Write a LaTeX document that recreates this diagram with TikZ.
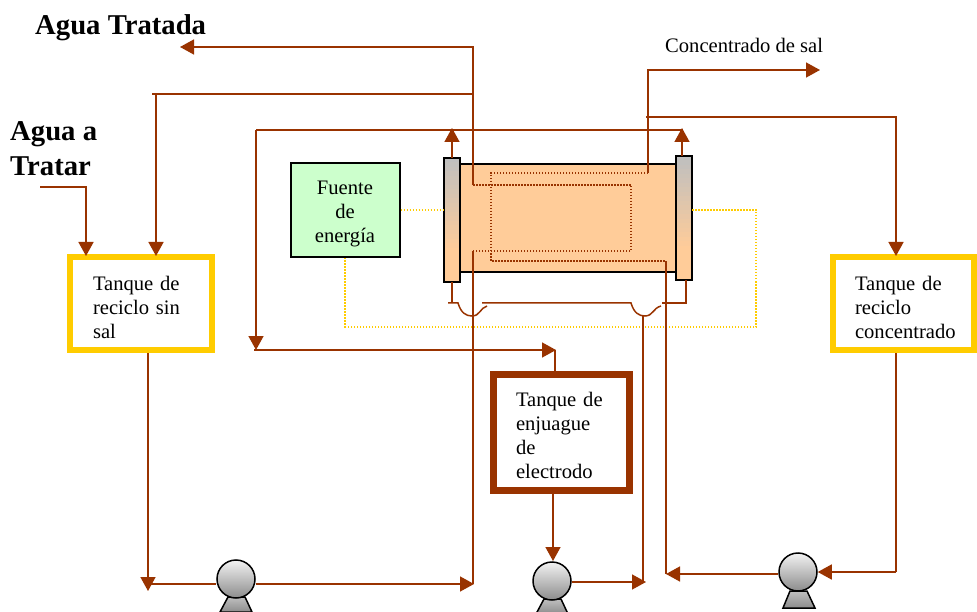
\documentclass[tikz,border=0pt]{standalone}
\usepackage{fontspec}
\setmainfont{Liberation Serif}
\usepackage{xcolor}
\usetikzlibrary{arrows.meta}
\definecolor{tubo}{HTML}{993300}
\definecolor{amarillo}{HTML}{FFCC00}
\definecolor{naranja}{HTML}{FFCC99}
\definecolor{verde}{HTML}{CCFFCC}
\definecolor{grisplaca}{HTML}{BFBFBF}
\tikzset{
  flujo/.style={draw=tubo,line width=1.5pt},
  flecha/.style={flujo,-{Triangle[length=14pt,width=15pt]}},
  interno/.style={draw=tubo,line width=1.5pt,dash pattern=on 1.5pt off 1.5pt},
  electrico/.style={draw=amarillo,line width=1.5pt,dash pattern=on 1.5pt off 1.5pt},
  texto/.style={font=\fontsize{20.6}{24}\selectfont,align=left,inner sep=0pt},
  titulo/.style={font=\fontsize{28.7}{35}\selectfont\bfseries,align=left,inner sep=0pt},
  tanque/.style={texto,rectangle,draw=amarillo,fill=white,line width=6pt,
    minimum width=141.5pt,minimum height=93pt,text width=96pt},
  bomba/.style={circle,draw=black,line width=1.5pt,minimum size=38pt,inner sep=0pt,
    top color=gray!10,bottom color=gray!90},
  base/.style={draw=black,line width=1.5pt,top color=gray!50,bottom color=gray!90},
  placa/.style={rectangle,fill=naranja,outer sep=0pt,minimum width=16pt,minimum height=124pt},
}
\begin{document}
\begin{tikzpicture}[x=1pt,y=-1pt]
  \useasboundingbox (0,0) rectangle (977,612);
  % --- titulos ---
  \node[titulo,anchor=west] (tratada) at (35,28) {Agua Tratada};
  \node[titulo,anchor=west] (atratar) at (10,149) {Agua a\\Tratar};
  \node[texto,anchor=west] (concsal) at (665,45) {Concentrado de sal};
  % --- celda ---
  \node[rectangle,draw=black,line width=1.5pt,fill=naranja,minimum width=218pt,minimum height=108pt] (celda) at (569,218) {};
  \node[placa] (placaizq) at (452,220) {};
  \node[placa] (placader) at (684,218) {};
  \foreach \placa in {placaizq,placader} {
    \foreach \i in {0,...,19} {
      \pgfmathsetmacro\mezcla{\i*5}
      \fill[naranja!\mezcla!grisplaca] ([yshift={-\i*4.5}]\placa.north west) rectangle ([yshift={-\i*4.5-5}]\placa.north east);
    }
    \draw[black,line width=1.5pt] (\placa.north west) rectangle (\placa.south east);
  }
  \node[texto,rectangle,draw=black,line width=2pt,fill=verde,minimum width=109pt,minimum height=94pt,text width=100pt,align=center] (fuente) at (345,210.5) {\rule{0pt}{19.5pt}Fuente\\de\\energía};
  % --- tanques ---
  \node[tanque] (tanquesal) at (141,303.5) {\rule{0pt}{22pt}Tanque de\\reciclo sin\\sal};
  \node[tanque,text width=97pt] (tanqueconc) at (903.5,303.5) {\rule{0pt}{22pt}Tanque de\\reciclo\\concentrado};
  \node[tanque,draw=tubo,line width=7pt,minimum width=136pt,minimum height=116pt,text width=91pt] (tanqueenj) at (561.5,432.5) {\rule{0pt}{20pt}Tanque de\\enjuague\\de\\electrodo};
  % --- bombas ---
  \draw[base] (228,597) -- (220,612) -- (252,612) -- (245,597) -- cycle;
  \draw[base] (544,599) -- (536,614) -- (568,614) -- (561,599) -- cycle;
  \draw[base] (790,591) -- (783,608) -- (815,608) -- (807,591) -- cycle;
  \node[bomba] (bomba1) at (236,579) {};
  \node[bomba] (bomba2) at (552,581) {};
  \node[bomba] (bomba3) at (798,572) {};
  % --- recorridos internos ---
  \coordinate (sal1) at (648,173);
  \coordinate (sal2) at (666,261);
  \coordinate (ent1) at (473,185);
  \coordinate (ent2) at (473,251);
  \draw[interno] (sal1) -- (491,173) -- (491,261) -- (sal2);
  \draw[interno] (ent1) -- (631,185) -- (631,251) -- (ent2);
  % --- electrico ---
  \draw[electrico] (fuente.east |- 0,210) -- (placaizq.west |- 0,210);
  \draw[electrico] (placader.east |- 0,210) -- (756,210) -- (756,327) -- (345,327) -- (fuente.south);
  % --- agua ---
  \coordinate (entrada) at (40,187);
  \draw[flecha] (entrada) -- (86,187) -- (86,256);
  \coordinate (nudo) at (473,47);
  \draw[flecha] (ent1) -- (nudo) -- (180,47);
  \coordinate (diluido) at (152,94);
  \draw[flujo] (diluido) -- (473,94);
  \draw[flecha] (156,94) -- (156,256);
  % --- enjuague ---
  \coordinate (enjA) at (683,130);
  \coordinate (enjB) at (256,130);
  \draw[flujo] (enjA) -- (enjB);
  \draw[flecha] (enjB) -- (256,350);
  \coordinate (enjC) at (254,350);
  \draw[flecha] (enjC) -- (556,350);
  \draw[flujo] (555,350) -- (555,371);
  \draw[flecha] (placaizq.north) -- (452,128);
  \draw[flecha] (682,156) -- (682,128);
  % --- concentrado ---
  \draw[flecha] (sal1) -- (648,70) -- (820,70);
  \coordinate (retorno) at (646,117);
  \draw[flecha] (retorno) -- (896,117) -- (896,256);
  % --- abajo ---
  \draw[flecha] (148,0 |- tanquesal.south) -- (148,591);
  \draw[flujo] (148,584) -- (bomba1.west |- 0,584);
  \draw[flecha] (bomba1.east |- 0,584) -- (474,584);
  \draw[flujo] (ent2) -- (473,584);
  \draw[flecha] (553,0 |- tanqueenj.south) -- (553,561);
  \draw[flecha] (bomba2.east |- 0,582) -- (646,582);
  \draw[flujo] (643,582) -- (643,316);
  \draw[flujo] (896,0 |- tanqueconc.south) -- (896,572);
  \draw[flecha] (896,572) -- (bomba3.east);
  \draw[flecha] (bomba3.west |- 0,574) -- (666,574);
  \draw[flujo] (666,574) -- (sal2);
  % --- colector ---
  \coordinate (colA) at (448,303);
  \draw[flujo] (placaizq.south) -- (452,303);
  \draw[flujo] (colA) -- (458,303) .. controls (461,313) and (466,316) .. (472,316) .. controls (480,316) and (480,308) .. (487,306);
  \draw[flujo] (482,303) -- (631,303) .. controls (634,313) and (639,316) .. (645,316) .. controls (653,316) and (653,308) .. (661,306);
  \draw[flujo] (662,303) -- (686,303) -- (686,280);
\end{tikzpicture}
\end{document}
